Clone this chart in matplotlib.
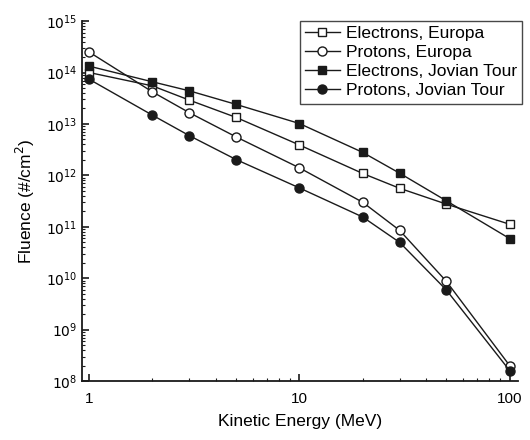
import matplotlib
matplotlib.use('Agg')
import matplotlib.pyplot as plt
from matplotlib.ticker import LogLocator, NullFormatter

plt.rcParams['font.family'] = ['Liberation Sans', 'DejaVu Sans']

# ===== DATA =====
energy = [1, 2, 3, 5, 10, 20, 30, 50, 100]
electrons_europa = [1.0e14, 5.5e13, 2.9e13, 1.34e13, 3.9e12, 1.09e12, 5.6e11, 2.76e11, 1.12e11]
protons_europa = [2.5e14, 4.2e13, 1.65e13, 5.6e12, 1.4e12, 3.0e11, 8.5e10, 8.7e9, 2.0e8]
electrons_jovian = [1.33e14, 6.6e13, 4.4e13, 2.4e13, 1.02e13, 2.8e12, 1.1e12, 3.2e11, 5.9e10]
protons_jovian = [7.4e13, 1.48e13, 5.9e12, 2.03e12, 5.7e11, 1.55e11, 4.96e10, 5.9e9, 1.6e8]

# ===== CHART =====
fig = plt.figure(figsize=(5.3, 4.4), dpi=100)
ax = fig.add_axes([0.155, 0.134, 0.823, 0.818])

ink = '#1a1a1a'
ax.plot(energy, electrons_europa, marker='s', mfc='white', mec=ink, color=ink,
        lw=1, ms=6, label='Electrons, Europa')
ax.plot(energy, protons_europa, marker='o', mfc='white', mec=ink, color=ink,
        lw=1, ms=6.5, label='Protons, Europa')
ax.plot(energy, electrons_jovian, marker='s', mfc=ink, mec=ink, color=ink,
        lw=1, ms=6, label='Electrons, Jovian Tour')
ax.plot(energy, protons_jovian, marker='o', mfc=ink, mec=ink, color=ink,
        lw=1, ms=6.5, label='Protons, Jovian Tour')

ax.set_xscale('log')
ax.set_yscale('log')
ax.set_xlim(0.926, 110)
ax.set_ylim(1e8, 1e15)

ax.set_yticks([10.0 ** k for k in range(8, 16)])
ax.set_yticklabels([r'$10^{%d}$' % k for k in range(8, 16)], fontsize=10)
ax.set_xticks([1, 10, 100])
ax.set_xticklabels(['1', '10', '100'], fontsize=11)
ax.yaxis.set_minor_locator(LogLocator(base=10, subs=range(2, 10), numticks=20))
ax.yaxis.set_minor_formatter(NullFormatter())
ax.xaxis.set_minor_locator(LogLocator(base=10, subs=range(2, 10), numticks=20))
ax.xaxis.set_minor_formatter(NullFormatter())
ax.tick_params(which='both', direction='in', color=ink)
ax.tick_params(which='major', length=5, width=1.2)
ax.tick_params(axis='x', which='major', pad=8)
ax.tick_params(which='minor', length=2.5, width=0.8)

for side in ['top', 'right']:
    ax.spines[side].set_visible(False)
for side in ['left', 'bottom']:
    ax.spines[side].set_linewidth(1.3)
    ax.spines[side].set_color(ink)

ax.set_xlabel('Kinetic Energy (MeV)', fontsize=12.5, labelpad=6)
ax.set_ylabel('Fluence (#/cm$^2$)', fontsize=12.5, labelpad=6)

leg = ax.legend(loc='upper right', bbox_to_anchor=(0.985, 0.952),
                bbox_transform=fig.transFigure, fontsize=12.5, frameon=True,
                fancybox=False, handlelength=2.0, handletextpad=0.35,
                borderpad=0.3, labelspacing=0.22, borderaxespad=0)
leg.get_frame().set_edgecolor(ink)
leg.get_frame().set_linewidth(1.0)

fig.savefig('out.png', dpi=100)
